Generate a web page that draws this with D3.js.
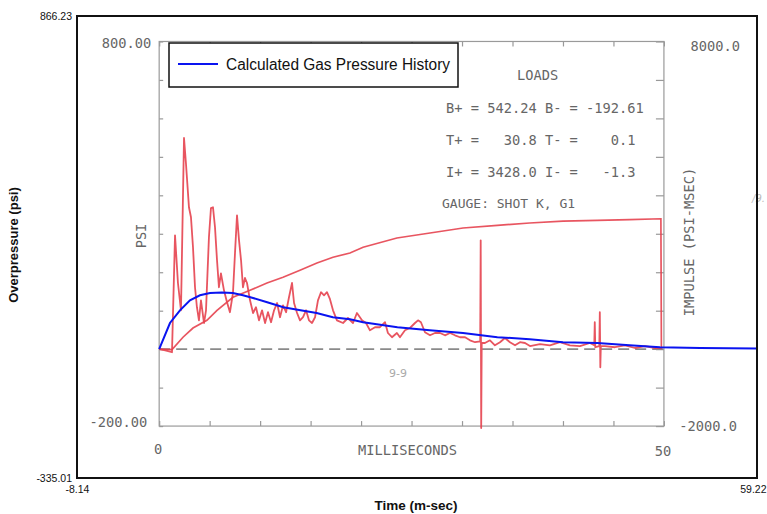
<!DOCTYPE html>
<html><head><meta charset="utf-8">
<script src="https://cdn.jsdelivr.net/npm/d3@7"></script>
<style>
html,body{margin:0;padding:0;background:#fff;}
svg{display:block;}
.mono{font-family:"DejaVu Sans Mono","Liberation Mono",monospace;fill:#666;white-space:pre;}
</style></head>
<body>
<script>
// ---- outer (Excel) axis extents ----
const xExtent = [-8.14, 59.22];
const yExtent = [-335.01, 866.23];
// ---- inner scanned chart axes ----
const innerTimeRange = [0, 50];
const innerPsiRange = [-200, 800];
const impulseRange = [-2000, 8000];
const innerTimeTicks = [0,5,10,15,20,25,30,35,40,45,50];
const innerPsiTicks = [-200,-100,0,100,200,300,400,500,600,700,800];
const impulseTicks = [-2000,-1000,0,1000,2000,3000,4000,5000,6000,7000,8000];

// ---- calculated gas pressure history (blue) ----
const gasTime = [0,1.07,2.06,3.05,4.04,5.03,6.2,7.3,8.3,9.3,10.7,12.3,14.0,15.6,17.2,18.9,20.2,23.6,26.8,30.1,33.5,36.7,40.0,43.4,46.6,49.6,53.6,59.2];
const gasPsi  = [0,68,101,127,140,146,147,146,140,133,122,109,101,94,83,78,70,57,49,42,31,26,18,16,10,5,3,2];

// ---- measured pressure trace (red) ----
const traceTime = [0,0.6,1.27,1.57,1.86,2.16,2.46,2.65,2.95,3.15,3.35,3.55,3.74,3.94,4.14,4.44,4.64,4.93,5.13,5.33,5.53,5.73,5.92,6.12,6.42,6.72,7.01,7.31,7.51,7.71,7.91,8.11,8.30,8.50,8.70,9.00,9.30,9.59,9.89,10.19,10.49,10.78,11.08,11.38,11.68,11.97,12.27,12.57,12.86,13.16,13.36,13.66,13.95,14.25,14.55,14.84,15.14,15.44,15.73,16.03,16.33,16.62,16.92,17.22,17.61,18.21,18.70,19.20,19.59,20.09,20.49,20.88,21.38,21.87,22.37,22.66,23.06,23.55,23.85,24.35,24.84,25.34,25.64,25.93,26.33,26.83,27.32,27.82,28.31,28.81,29.30,29.80,30.30,30.79,31.29,31.80,31.85,31.90,31.95,32.27,32.77,33.26,33.76,34.25,34.75,35.25,35.74,36.24,36.73,37.72,38.71,39.70,40.69,41.68,42.67,43.10,43.15,43.20,43.60,43.65,43.70,43.75,44.16,45.15,46.14,47.13,48.12,49.11,49.71];
const tracePsi  = [0,-3,-8,296,172,101,549,484,369,343,265,161,109,75,127,68,101,291,367,369,317,231,161,197,153,122,96,146,249,348,283,231,161,185,172,127,94,109,75,101,68,96,70,101,120,83,114,96,135,172,120,94,75,83,101,75,68,83,127,148,140,148,130,101,75,68,81,68,94,75,68,49,57,57,70,42,31,42,31,49,55,68,75,70,44,36,42,42,36,42,36,31,31,23,18,20,283,-205,16,16,23,10,18,29,18,10,18,16,8,13,10,18,10,8,16,10,70,5,8,96,-47,8,8,5,10,3,8,3,3];

// ---- impulse (red, right axis) ----
const impTime  = [0,1.27,2.36,3.35,4.73,5.73,7.31,9.0,10.68,12.27,13.95,15.63,17.22,18.9,20.2,23.55,26.83,30.1,33.5,36.7,40.0,43.4,46.6,49.7,49.75];
const impValue = [0,-10,310,550,750,1010,1350,1530,1720,1870,2050,2240,2390,2500,2650,2890,3020,3150,3220,3280,3330,3350,3370,3390,0];

const W = 767, H = 514;
const svg = d3.select("body").append("svg").attr("width", W).attr("height", H);
svg.append("rect").attr("width", W).attr("height", H).attr("fill", "#fff");

const x = d3.scaleLinear().domain(xExtent).range([77, 757]);
const y = d3.scaleLinear().domain(yExtent).range([478, 16]);
const yImp = d3.scaleLinear().domain(impulseRange).range([y(innerPsiRange[0]), y(innerPsiRange[1])]);

// ---- inner scanned-chart frame & ticks ----
const inner = svg.append("g");
const axStyle = g => { g.selectAll("path,line").attr("stroke", "#999").attr("stroke-width", 1.2); g.selectAll("text").remove(); };
inner.append("g").attr("transform", `translate(${x(0)},0)`)
  .call(d3.axisLeft(y).tickValues(innerPsiTicks).tickSizeInner(-4).tickSizeOuter(0)).call(axStyle);
inner.append("g").attr("transform", `translate(${x(50)},0)`)
  .call(d3.axisRight(yImp).tickValues(impulseTicks).tickSizeInner(-8).tickSizeOuter(0)).call(axStyle);
inner.append("g").attr("transform", `translate(0,${y(-200)})`)
  .call(d3.axisBottom(x).tickValues(innerTimeTicks).tickSizeInner(-5).tickSizeOuter(0)).call(axStyle);
inner.append("g").attr("transform", `translate(0,${y(800)})`)
  .call(d3.axisTop(x).tickValues(innerTimeTicks).tickSizeInner(-5).tickSizeOuter(0)).call(axStyle);
inner.selectAll(".domain").attr("d", null);
inner.append("rect").attr("x", x(0)).attr("y", y(800)).attr("width", x(50)-x(0)).attr("height", y(-200)-y(800))
  .attr("fill", "none").attr("stroke", "#9a9a9a").attr("stroke-width", 1.2);

// dashed zero line
inner.append("line").attr("x1", x(0)).attr("x2", x(50)).attr("y1", y(0)).attr("y2", y(0))
  .attr("stroke", "#8a8a8a").attr("stroke-width", 1.6).attr("stroke-dasharray", "11,6");

// inner text
const mono = (t, px, py, anchor, size) => svg.append("text").attr("class", "mono").attr("xml:space", "preserve")
  .attr("x", px).attr("y", py).attr("text-anchor", anchor || "start").attr("font-size", size || 13.7).text(t);
mono("800.00", x(0) - 8, y(800) + 7, "end");
mono("-200.00", x(0) - 12, y(-200) + 1, "end");
mono("8000.0", 740, yImp(8000) + 10, "end");
mono("-2000.0", 737, yImp(-2000) + 5, "end");
mono("0", x(0) - 1, 454, "middle");
mono("50", x(50) - 1, 456, "middle");
mono("MILLISECONDS", x(24.6), 455, "middle");
mono("LOADS", 517, 80);
mono("B+ = 542.24 B- = -192.61", 446, 113);
mono("T+ =   30.8 T- =    0.1", 446, 145);
mono("I+ = 3428.0 I- =   -1.3", 446, 177);
mono("GAUGE: SHOT K, G1", 442, 208, "start", 13);
svg.append("text").attr("class", "mono").attr("font-size", 13.7).attr("text-anchor", "middle")
  .attr("transform", "translate(146,236) rotate(-90)").text("PSI");
svg.append("text").attr("class", "mono").attr("font-size", 13.7).attr("text-anchor", "middle")
  .attr("transform", "translate(694,242) rotate(-90)").text("IMPULSE (PSI-MSEC)");
svg.append("text").attr("x", 398).attr("y", 377).attr("font-size", 11).attr("fill", "#aaa")
  .attr("text-anchor", "middle").attr("font-family", "DejaVu Sans").text("9-9");
svg.append("text").attr("x", 765).attr("y", 202).attr("font-size", 10).attr("fill", "#bbb")
  .attr("text-anchor", "end").attr("font-style", "italic").attr("font-family", "DejaVu Sans").text("/9.");

// ---- red curves ----
const line = d3.line().x(d => x(d[0])).y(d => y(d[1]));
const lineImp = d3.line().x(d => x(d[0])).y(d => yImp(d[1]));
svg.append("path").datum(d3.zip(impTime, impValue)).attr("d", lineImp)
  .attr("fill", "none").attr("stroke", "#e5434f").attr("stroke-width", 1.7).attr("stroke-opacity", 0.9);
svg.append("path").datum(d3.zip(traceTime, tracePsi)).attr("d", line)
  .attr("fill", "none").attr("stroke", "#e5434f").attr("stroke-width", 1.8).attr("stroke-opacity", 0.9)
  .attr("stroke-linejoin", "round");

// ---- blue calculated line ----
svg.append("path").datum(d3.zip(gasTime, gasPsi)).attr("d", line)
  .attr("fill", "none").attr("stroke", "#0a14f0").attr("stroke-width", 2);

// ---- outer frame & axes ----
svg.append("rect").attr("x", x(xExtent[0])).attr("y", y(yExtent[1]))
  .attr("width", x(xExtent[1]) - x(xExtent[0])).attr("height", y(yExtent[0]) - y(yExtent[1]))
  .attr("fill", "none").attr("stroke", "#111").attr("stroke-width", 2);
const fmt = d => d.toFixed(2);
const outerAx = g => { g.select(".domain").remove(); g.selectAll("line").remove();
  g.selectAll("text").attr("font-family", "Liberation Sans, Arial, sans-serif").attr("font-size", 10.5).attr("fill", "#111"); };
svg.append("g").attr("transform", `translate(${x(xExtent[0])},0)`)
  .call(d3.axisLeft(y).tickValues([yExtent[0], yExtent[1]]).tickFormat(fmt).tickSize(0).tickPadding(5)).call(outerAx);
const bx = svg.append("g").attr("transform", `translate(0,${y(yExtent[0])})`)
  .call(d3.axisBottom(x).tickValues([xExtent[0], xExtent[1]]).tickFormat(fmt).tickSize(0).tickPadding(8)).call(outerAx);
bx.selectAll("text").filter(d => d === xExtent[1]).attr("text-anchor", "end").attr("x", 766 - x(xExtent[1]));
svg.append("text").attr("transform", "translate(18,245) rotate(-90)").attr("text-anchor", "middle")
  .attr("font-family", "Liberation Sans, Arial, sans-serif").attr("font-weight", "bold").attr("font-size", 13).attr("fill", "#111")
  .text("Overpressure (psi)");
svg.append("text").attr("x", 416).attr("y", 510).attr("text-anchor", "middle")
  .attr("font-family", "Liberation Sans, Arial, sans-serif").attr("font-weight", "bold").attr("font-size", 13.5).attr("fill", "#111")
  .text("Time (m-sec)");

// ---- legend ----
const lg = svg.append("g");
lg.append("rect").attr("x", 169).attr("y", 43).attr("width", 289).attr("height", 44)
  .attr("fill", "#fff").attr("stroke", "#111").attr("stroke-width", 1.5);
lg.append("line").attr("x1", 178).attr("x2", 218).attr("y1", 64).attr("y2", 64)
  .attr("stroke", "#0a14f0").attr("stroke-width", 2);
lg.append("text").attr("x", 226).attr("y", 70).attr("font-family", "Liberation Sans, Arial, sans-serif")
  .attr("font-size", 16).attr("fill", "#111").attr("textLength", 224).attr("lengthAdjust", "spacingAndGlyphs")
  .text("Calculated Gas Pressure History");
</script>
</body></html>
